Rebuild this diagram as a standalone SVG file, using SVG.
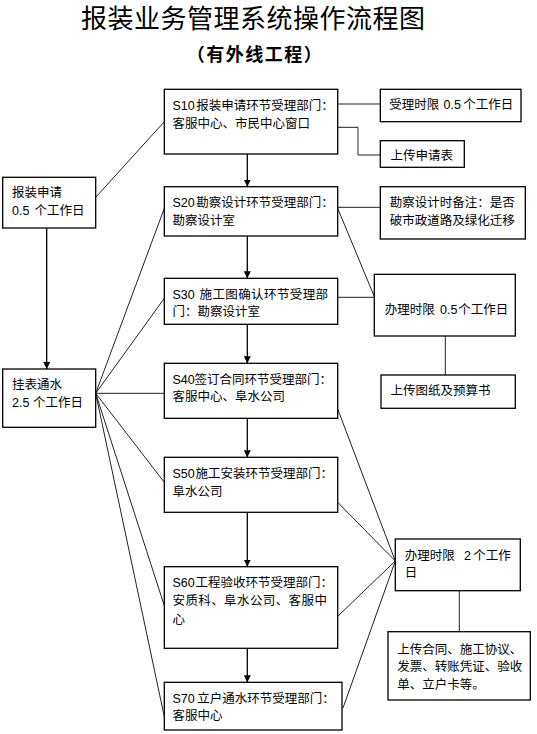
<svg xmlns="http://www.w3.org/2000/svg" width="537" height="734" viewBox="0 0 537 734">
<defs>
<style>
.bx{fill:#fff;stroke:#000;stroke-width:1.3}
.t{font-family:"Liberation Sans","Noto Sans CJK SC",sans-serif;font-size:12.5px;fill:#000}
.ln{fill:none;stroke:#222;stroke-width:1}
.ar{fill:none;stroke:#000;stroke-width:1.3;marker-end:url(#ah)}
.title{font-family:"Liberation Sans","Noto Sans CJK SC",sans-serif;font-size:26px;fill:#000}
.sub{font-family:"Liberation Sans","Noto Sans CJK SC",sans-serif;font-size:18px;font-weight:bold;fill:#000}
</style>
<marker id="ah" viewBox="0 0 7 7" refX="7" refY="3.5" markerWidth="7" markerHeight="7" markerUnits="userSpaceOnUse" orient="auto">
<path d="M0,0 L7,3.5 L0,7 z" fill="#000"/>
</marker>
</defs>
<rect width="537" height="734" fill="#fff"/>
<text class="title" x="81" y="28" letter-spacing="0.5">报装业务管理系统操作流程图</text>
<text class="sub" x="255" y="61" text-anchor="middle" letter-spacing="1.5">（有外线工程）</text>

<g id="connectors">
<line class="ar" x1="247.3" y1="154" x2="247.3" y2="186.7"/>
<line class="ar" x1="247.3" y1="236" x2="247.3" y2="278.3"/>
<line class="ar" x1="247.3" y1="324.3" x2="247.3" y2="363.3"/>
<line class="ar" x1="247.3" y1="418.3" x2="247.3" y2="457.3"/>
<line class="ar" x1="247.3" y1="512.3" x2="247.3" y2="566.7"/>
<line class="ar" x1="247.3" y1="648.3" x2="247.3" y2="682.3"/>
<line class="ar" x1="46.7" y1="228" x2="46.7" y2="369"/>
<line class="ln" x1="95.7" y1="197.3" x2="164.3" y2="121.7"/>
<line class="ln" x1="95.7" y1="393.3" x2="164.3" y2="208.3"/>
<line class="ln" x1="95.7" y1="393.3" x2="164.3" y2="298.3"/>
<line class="ln" x1="95.7" y1="393.3" x2="164.3" y2="393.3"/>
<line class="ln" x1="95.7" y1="393.3" x2="164.3" y2="482.3"/>
<line class="ln" x1="95.7" y1="393.3" x2="164.3" y2="605.7"/>
<line class="ln" x1="95.7" y1="393.3" x2="164.3" y2="716.7"/>
<line class="ln" x1="337.7" y1="104" x2="380.3" y2="104"/>
<polyline class="ln" points="337.7,127.3 358,127.3 358,155 380.3,155"/>
<line class="ln" x1="337.7" y1="207.3" x2="380.3" y2="207.3"/>
<line class="ln" x1="337.7" y1="208.3" x2="374.3" y2="296.5"/>
<line class="ln" x1="337.7" y1="297.3" x2="374.3" y2="297.3"/>
<line class="ln" x1="445.3" y1="336" x2="445.3" y2="375"/>
<line class="ln" x1="337.7" y1="409" x2="395.3" y2="561"/>
<line class="ln" x1="337.7" y1="502.3" x2="395.3" y2="561"/>
<line class="ln" x1="337.7" y1="616.3" x2="395.3" y2="561"/>
<line class="ln" x1="343" y1="708" x2="395.3" y2="561"/>
<line class="ln" x1="459.3" y1="590.7" x2="459.3" y2="631.7"/>
</g>

<g id="n_s10">
<rect class="bx" x="164.3" y="89.3" width="173.4" height="64.7"/>
<text class="t" x="172.5" y="109.5">S10<tspan x="196.2">报装申请环节受理部门：</tspan></text>
<text class="t" x="172.5" y="128">客服中心、市民中心窗口</text>
</g>
<g id="n_s20">
<rect class="bx" x="164.3" y="186.7" width="173.4" height="49.3"/>
<text class="t" x="172.5" y="207">S20<tspan x="196.2">勘察设计环节受理部门：</tspan></text>
<text class="t" x="172.5" y="224.5">勘察设计室</text>
</g>
<g id="n_s30">
<rect class="bx" x="164.3" y="278.3" width="173.4" height="46"/>
<text class="t" x="172.5" y="298.5">S30<tspan x="199.5" letter-spacing="0.4">施工图确认环节受理部</tspan></text>
<text class="t" x="172.5" y="316">门：勘察设计室</text>
</g>
<g id="n_s40">
<rect class="bx" x="164.3" y="363.3" width="173.4" height="55"/>
<text class="t" x="172.5" y="383.5">S40<tspan x="194.5">签订合同环节受理部门：</tspan></text>
<text class="t" x="172.5" y="401">客服中心、阜水公司</text>
</g>
<g id="n_s50">
<rect class="bx" x="164.3" y="457.3" width="173.4" height="55"/>
<text class="t" x="172.5" y="478">S50<tspan x="195.5">施工安装环节受理部门：</tspan></text>
<text class="t" x="172.5" y="496">阜水公司</text>
</g>
<g id="n_s60">
<rect class="bx" x="164.3" y="566.7" width="173.4" height="81.6"/>
<text class="t" x="172.5" y="587">S60<tspan x="195.5">工程验收环节受理部门：</tspan></text>
<text class="t" x="172.5" y="605" letter-spacing="0.4">安质科、阜水公司、客服中</text>
<text class="t" x="172.5" y="623.5">心</text>
</g>
<g id="n_s70">
<rect class="bx" x="164.3" y="682.3" width="177.7" height="47.7"/>
<text class="t" x="172.5" y="702.5">S70<tspan x="197.2">立户通水环节受理部门：</tspan></text>
<text class="t" x="172.5" y="720">客服中心</text>
</g>
<g id="n_apply">
<rect class="bx" x="2.7" y="177.3" width="93" height="50.7"/>
<text class="t" x="12" y="197">报装申请</text>
<text class="t" x="12" y="215">0.5<tspan x="34.5">个工作日</tspan></text>
</g>
<g id="n_meter">
<rect class="bx" x="2.7" y="369" width="93" height="58.3"/>
<text class="t" x="12" y="388.5">挂表通水</text>
<text class="t" x="12" y="407">2.5<tspan x="33">个工作日</tspan></text>
</g>
<g id="n_t1">
<rect class="bx" x="380.3" y="89.3" width="140.7" height="32.4"/>
<text class="t" x="389.2" y="108.5">受理时限<tspan x="443.5">0.5</tspan><tspan x="463.2">个工作日</tspan></text>
</g>
<g id="n_upload1">
<rect class="bx" x="380.3" y="140.7" width="84" height="26.6"/>
<text class="t" x="390.5" y="159.5">上传申请表</text>
</g>
<g id="n_note">
<rect class="bx" x="380.3" y="186.7" width="145" height="52.3"/>
<text class="t" x="389.8" y="207">勘察设计时备注：是否</text>
<text class="t" x="389.8" y="224.5">破市政道路及绿化迁移</text>
</g>
<g id="n_t2">
<rect class="bx" x="374.3" y="274.3" width="141" height="61.7"/>
<text class="t" x="384.8" y="314">办理时限<tspan x="440">0.5</tspan><tspan x="458.3">个工作日</tspan></text>
</g>
<g id="n_upload2">
<rect class="bx" x="381" y="375" width="134.3" height="33.3"/>
<text class="t" x="390.5" y="395">上传图纸及预算书</text>
</g>
<g id="n_t3">
<rect class="bx" x="395.3" y="539" width="125" height="51.7"/>
<text class="t" x="404.8" y="560">办理时限<tspan x="464">2</tspan><tspan x="473.2">个工作</tspan></text>
<text class="t" x="404.8" y="577">日</text>
</g>
<g id="n_upload3">
<rect class="bx" x="388" y="631.7" width="142.3" height="68.3"/>
<text class="t" x="397.2" y="653.5">上传合同、施工协议、</text>
<text class="t" x="397.2" y="671">发票、转账凭证、验收</text>
<text class="t" x="397.2" y="689">单、立户卡等。</text>
</g>
</svg>
